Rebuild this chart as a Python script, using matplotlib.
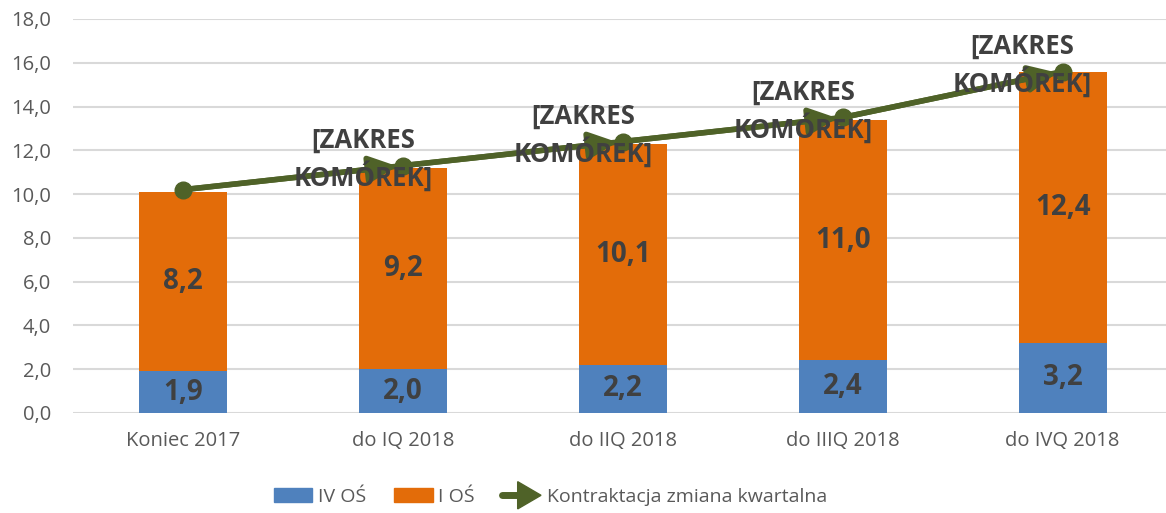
import matplotlib.pyplot as plt
from matplotlib.legend_handler import HandlerBase
from matplotlib.lines import Line2D
from matplotlib.patches import Patch, Polygon

plt.rcParams["font.family"] = ["Open Sans", "DejaVu Sans"]

categories = ["Koniec 2017", "do IQ 2018", "do IIQ 2018", "do IIIQ 2018", "do IVQ 2018"]
iv_os = [1.9, 2.0, 2.2, 2.4, 3.2]
i_os = [8.2, 9.2, 10.1, 11.0, 12.4]
kontraktacja = [10.2, 11.3, 12.4, 13.5, 15.6]
line_labels = ["", "[ZAKRES\nKOMÓREK]", "[ZAKRES\nKOMÓREK]", "[ZAKRES\nKOMÓREK]", "[ZAKRES\nKOMÓREK]"]
y_ticks = [0, 2, 4, 6, 8, 10, 12, 14, 16, 18]

BLUE = "#4F81BD"
ORANGE = "#E36C09"
GREEN = "#4F6228"
TEXT = "#404040"
GRAY = "#595959"


class ArrowHandler(HandlerBase):
    """Legend entry: short line ending in a right-pointing triangle."""

    def create_artists(self, legend, orig_handle, xdescent, ydescent,
                       width, height, fontsize, trans):
        cy = height / 2 - ydescent
        x_left = -xdescent
        line = Line2D([x_left, x_left + width * 0.5], [cy, cy],
                      color=GREEN, linewidth=5, solid_capstyle="round",
                      transform=trans)
        x0 = x_left + width * 0.4
        tri = Polygon([[x0, cy - height * 1.0], [x0, cy + height * 1.0],
                       [x_left + width, cy]],
                      closed=True, color=GREEN, transform=trans)
        return [line, tri]


fig = plt.figure(figsize=(11.66, 5.13), dpi=100)
ax = fig.add_axes([0.0626, 0.195, 0.9374, 0.768])

x = range(len(categories))
ax.bar(x, iv_os, width=0.4, color=BLUE, zorder=2)
ax.bar(x, i_os, width=0.4, bottom=iv_os, color=ORANGE, zorder=2)

for i in x:
    ax.text(i, iv_os[i] / 2, f"{iv_os[i]:.1f}".replace(".", ","),
            ha="center", va="center", fontsize=20, fontweight="bold", color=TEXT, zorder=6)
    ax.text(i, iv_os[i] + i_os[i] / 2, f"{i_os[i]:.1f}".replace(".", ","),
            ha="center", va="center", fontsize=20, fontweight="bold", color=TEXT, zorder=6)

# line with an arrowhead at the end of each segment
ax.plot(x, kontraktacja, color=GREEN, linewidth=4, zorder=3)
for i in range(1, len(kontraktacja)):
    ax.annotate("", xy=(i, kontraktacja[i]), xytext=(i - 1, kontraktacja[i - 1]),
                arrowprops=dict(arrowstyle="-|>,head_length=1.7,head_width=0.8",
                                color=GREEN, lw=4, shrinkA=0, shrinkB=4),
                zorder=3)
ax.plot(x, kontraktacja, linestyle="none", marker="o", markersize=12,
        color=GREEN, zorder=4)

for i, lbl in enumerate(line_labels):
    if lbl:
        ax.annotate(lbl, xy=(i, kontraktacja[i]), xytext=(-40, 6),
                    textcoords="offset pixels", ha="center", va="center",
                    fontsize=18.5, fontweight="bold", color=TEXT, zorder=7,
                    linespacing=1.3)

ax.set_xlim(-0.5, 4.47)
ax.set_ylim(0, 18)
ax.set_yticks(y_ticks)
ax.set_yticklabels([f"{v:.1f}".replace(".", ",") for v in y_ticks])
ax.set_xticks(list(x))
ax.set_xticklabels(categories)
ax.tick_params(axis="both", length=0, labelsize=14.5, colors=GRAY)
ax.tick_params(axis="x", pad=13)
ax.tick_params(axis="y", pad=16)
ax.grid(axis="y", color="#D9D9D9", linewidth=1.5, zorder=0)
ax.set_axisbelow(True)
for s in ax.spines.values():
    s.set_visible(False)

handles = [Patch(color=BLUE), Patch(color=ORANGE), Line2D([], [])]
fig.legend(handles, ["IV OŚ", "I OŚ", "Kontraktacja zmiana kwartalna"],
           handler_map={Line2D: ArrowHandler()},
           loc="center", bbox_to_anchor=(0.472, 0.031), ncol=3, frameon=False,
           fontsize=14, labelcolor=GRAY, handlelength=2.0, handleheight=0.7,
           columnspacing=1.4, handletextpad=0.3)

fig.savefig("out.png", dpi=100)
